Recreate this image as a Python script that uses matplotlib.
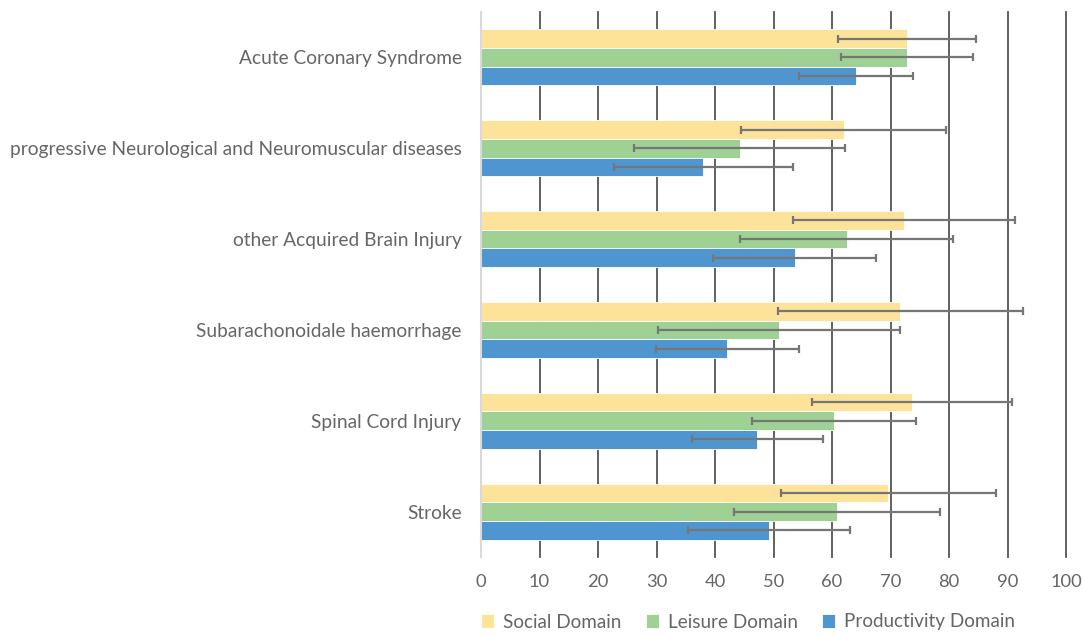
import matplotlib
matplotlib.use("Agg")
import matplotlib.pyplot as plt
import numpy as np

# categories listed bottom -> top
categories = [
    "Stroke",
    "Spinal Cord Injury",
    "Subarachonoidale haemorrhage",
    "other Acquired Brain Injury",
    "progressive Neurological and Neuromuscular diseases",
    "Acute Coronary Syndrome",
]

social_mean = [69.6, 73.7, 71.7, 72.3, 62.0, 72.8]
social_sd = [18.4, 17.1, 21.0, 18.9, 17.5, 11.8]
leisure_mean = [60.8, 60.3, 50.9, 62.5, 44.2, 72.8]
leisure_sd = [17.6, 14.0, 20.7, 18.2, 18.1, 11.3]
product_mean = [49.2, 47.2, 42.1, 53.6, 38.0, 64.1]
product_sd = [13.9, 11.2, 12.2, 14.0, 15.3, 9.7]

series_names = ["Social Domain", "Leisure Domain", "Productivity Domain"]
x_ticks = list(range(0, 101, 10))

SOCIAL = "#FDE299"
LEISURE = "#9ED193"
PRODUCT = "#4F96D0"
ERR = "#767676"
GRID = "#555555"
TEXT = "#666666"

plt.rcParams.update({
    "font.family": ["Lato", "DejaVu Sans"],
    "font.size": 13,
})

fig = plt.figure(figsize=(10.83, 6.35), dpi=100)
ax = fig.add_axes([481 / 1083, 1 - 557 / 635, 585 / 1083, 545 / 635])

y = np.arange(len(categories))
h = 0.206

series = [
    (social_mean, social_sd, SOCIAL, h),
    (leisure_mean, leisure_sd, LEISURE, 0.0),
    (product_mean, product_sd, PRODUCT, -h),
]
handles = []
for (means, sds, color, off), name in zip(series, series_names):
    b = ax.barh(y + off, means, height=h, color=color, edgecolor="#FFFFFF",
                linewidth=0.6, label=name, zorder=2)
    handles.append(b)
    ax.errorbar(means, y + off, xerr=sds, fmt="none", ecolor=ERR,
                elinewidth=1.6, capsize=3, capthick=1.6, zorder=3)

ax.set_xlim(0, 100)
ax.set_ylim(-0.5, len(categories) - 0.5)
ax.set_xticks(x_ticks)
ax.set_yticks(y)
ax.set_yticklabels(categories, fontsize=13.75)

ax.set_axisbelow(True)
ax.xaxis.grid(True, color=GRID, linewidth=1.3)
ax.get_xgridlines()[0].set_visible(False)
for gl in ax.get_xgridlines():
    gl.set_clip_on(False)

for s in ("top", "right", "bottom"):
    ax.spines[s].set_visible(False)
ax.spines["left"].set_color("#D9D9D9")
ax.spines["left"].set_linewidth(1.5)

ax.tick_params(axis="both", length=0, colors=TEXT)
ax.tick_params(axis="x", labelsize=13.2, pad=12)
ax.tick_params(axis="y", pad=14)

fig.legend(handles=handles, labels=series_names, loc="center",
           bbox_to_anchor=(748 / 1083, 1 - 622 / 635), ncol=3, frameon=False,
           handlelength=0.7, handleheight=0.7, handletextpad=0.45,
           columnspacing=1.3, fontsize=13.6, labelcolor=TEXT)

fig.savefig("out.png", dpi=100)
